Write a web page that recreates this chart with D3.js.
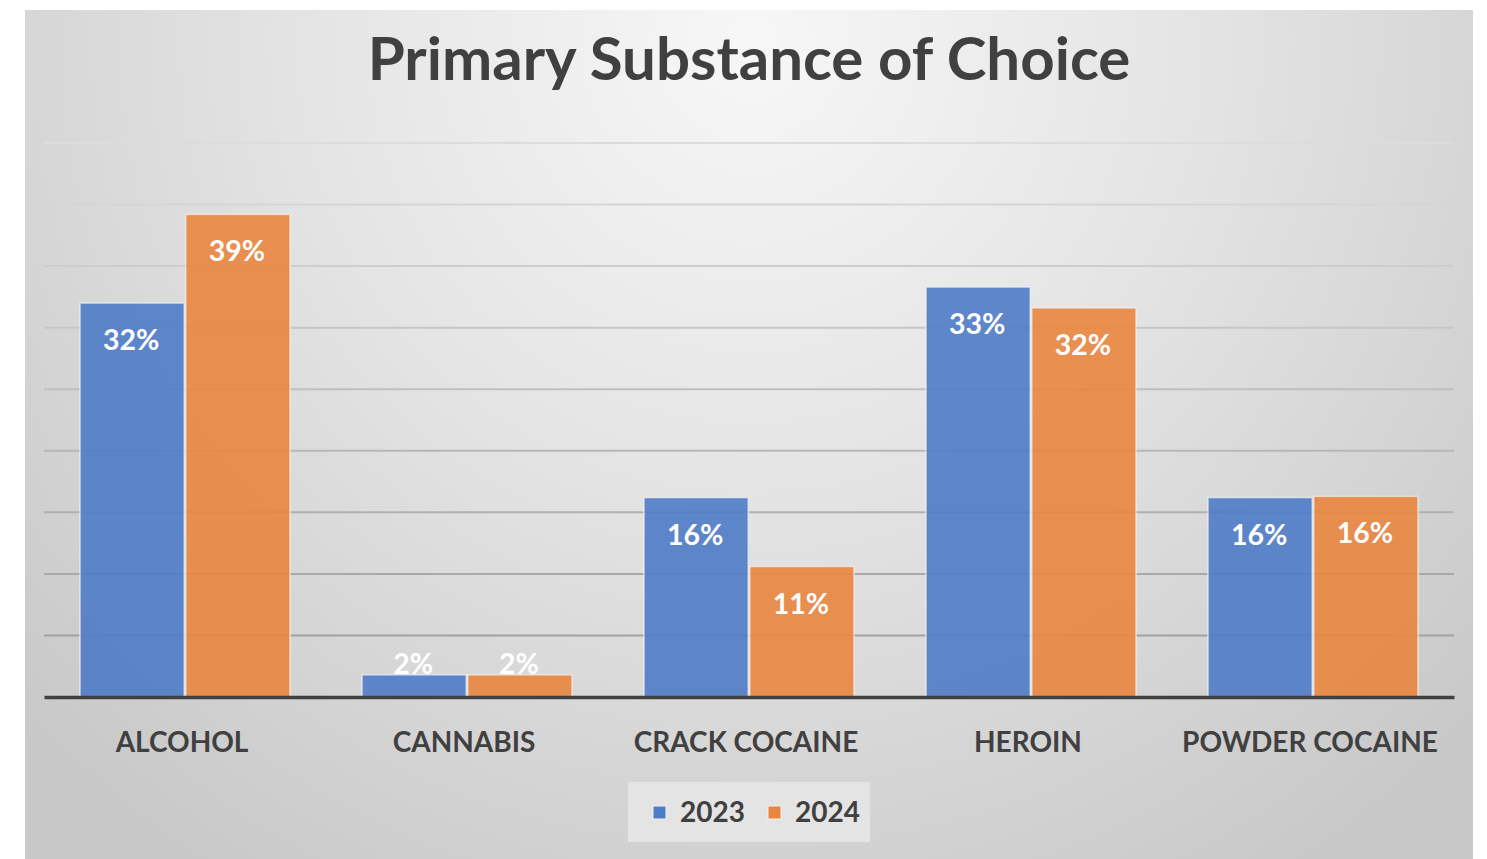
<!DOCTYPE html>
<html>
<head>
<meta charset="utf-8">
<script src="https://cdn.jsdelivr.net/npm/d3@7"></script>
<style>
  html, body { margin: 0; padding: 0; background: #ffffff; }
  svg { display: block; }
  text { font-family: Lato, "Open Sans", sans-serif; }
</style>
</head>
<body>
<svg id="chart" width="1487" height="859"></svg>
<script>
const categories = ["ALCOHOL", "CANNABIS", "CRACK COCAINE", "HEROIN", "POWDER COCAINE"];
const seriesNames = ["2023", "2024"];
const values2023 = [32.0, 1.8, 16.2, 33.3, 16.2];
const values2024 = [39.2, 1.8, 10.6, 31.6, 16.3];
const labels2023 = ["32%", "2%", "16%", "33%", "16%"];
const labels2024 = ["39%", "2%", "11%", "32%", "16%"];
const yTicks = [0, 5, 10, 15, 20, 25, 30, 35, 40, 45];
const colors = ["#4f7cc8", "#e9853f"];

const svg = d3.select("#chart");
const W = 1487, H = 859;

// background radial gradient
const defs = svg.append("defs");
const rg = defs.append("radialGradient").attr("id", "bg")
  .attr("gradientUnits", "userSpaceOnUse")
  .attr("cx", 750).attr("cy", 40).attr("r", 1000);
rg.append("stop").attr("offset", "0%").attr("stop-color", "#f7f7f7");
rg.append("stop").attr("offset", "45%").attr("stop-color", "#e4e4e4");
rg.append("stop").attr("offset", "100%").attr("stop-color", "#c8c8c8");

svg.append("rect").attr("x", 25).attr("y", 10).attr("width", 1448).attr("height", 849)
  .attr("fill", "url(#bg)");

const x0 = d3.scaleBand().domain(categories).range([44, 1454]).paddingInner(0.25).paddingOuter(0.125);
const x1 = d3.scaleBand().domain(seriesNames).range([0, x0.bandwidth()]).padding(0);
const y = d3.scaleLinear().domain([0, 45]).range([697, 143]);

// gridlines
const gridColor = d3.scaleLinear().domain([0, 45]).range(["#9a9a9a", "#dcdcdc"]);
svg.append("g").selectAll("line").data(yTicks.filter(d => d > 0)).join("line")
  .attr("x1", 44).attr("x2", 1454)
  .attr("y1", d => y(d)).attr("y2", d => y(d))
  .attr("stroke", d => gridColor(d)).attr("stroke-width", 2);

// bars
const data = categories.map((c, i) => ({
  cat: c,
  vals: [
    { s: "2023", v: values2023[i], label: labels2023[i], color: colors[0] },
    { s: "2024", v: values2024[i], label: labels2024[i], color: colors[1] }
  ]
}));

const groups = svg.append("g").selectAll("g").data(data).join("g")
  .attr("transform", d => `translate(${x0(d.cat)},0)`);

groups.selectAll("rect").data(d => d.vals).join("rect")
  .attr("x", d => x1(d.s) + 0.75)
  .attr("width", x1.bandwidth() - 1.5)
  .attr("y", d => y(d.v))
  .attr("height", d => y(0) - y(d.v))
  .attr("fill", d => d.color)
  .attr("fill-opacity", 0.9)
  .attr("stroke", "#f2f2f2")
  .attr("stroke-opacity", 0.7)
  .attr("stroke-width", 1.5);

groups.selectAll("text").data(d => d.vals).join("text")
  .attr("x", d => x1(d.s) + x1.bandwidth() / 2 - 1)
  .attr("y", d => {
    const h = y(0) - y(d.v);
    return h > 50 ? y(d.v) + 47 : y(d.v) - 1;
  })
  .attr("text-anchor", "middle")
  .attr("fill", "#ffffff")
  .attr("font-size", 28.5)
  .attr("font-weight", 700)
  .text(d => d.label);

// baseline axis
const xAxis = svg.append("g").attr("transform", `translate(0,${y(0)})`)
  .call(d3.axisBottom(x0).tickSize(0).tickPadding(0));
xAxis.select(".domain").attr("stroke", "#404040").attr("stroke-width", 3.5);
xAxis.selectAll("text")
  .attr("dy", 0).attr("y", 55).attr("dx", -3)
  .attr("fill", "#404040")
  .attr("font-size", 28)
  .attr("font-weight", 700)
  .style("font-family", "Lato, 'Open Sans', sans-serif");

// title
svg.append("text").attr("x", 749).attr("y", 80)
  .attr("text-anchor", "middle")
  .attr("fill", "#404040")
  .attr("font-size", 60)
  .attr("font-weight", 700)
  .text("Primary Substance of Choice");

// legend
const lg = svg.append("g");
lg.append("rect").attr("x", 628).attr("y", 782).attr("width", 242).attr("height", 60)
  .attr("fill", "#e4e4e4");
const legendX = [653, 768];
seriesNames.forEach((s, i) => {
  lg.append("rect").attr("x", legendX[i]).attr("y", 806).attr("width", 13).attr("height", 13)
    .attr("fill", colors[i]).attr("stroke", "#f2f2f2").attr("stroke-width", 1);
  lg.append("text").attr("x", legendX[i] + 27).attr("y", 822)
    .attr("fill", "#404040").attr("font-size", 28).attr("font-weight", 700)
    .text(s);
});
</script>
</body>
</html>
